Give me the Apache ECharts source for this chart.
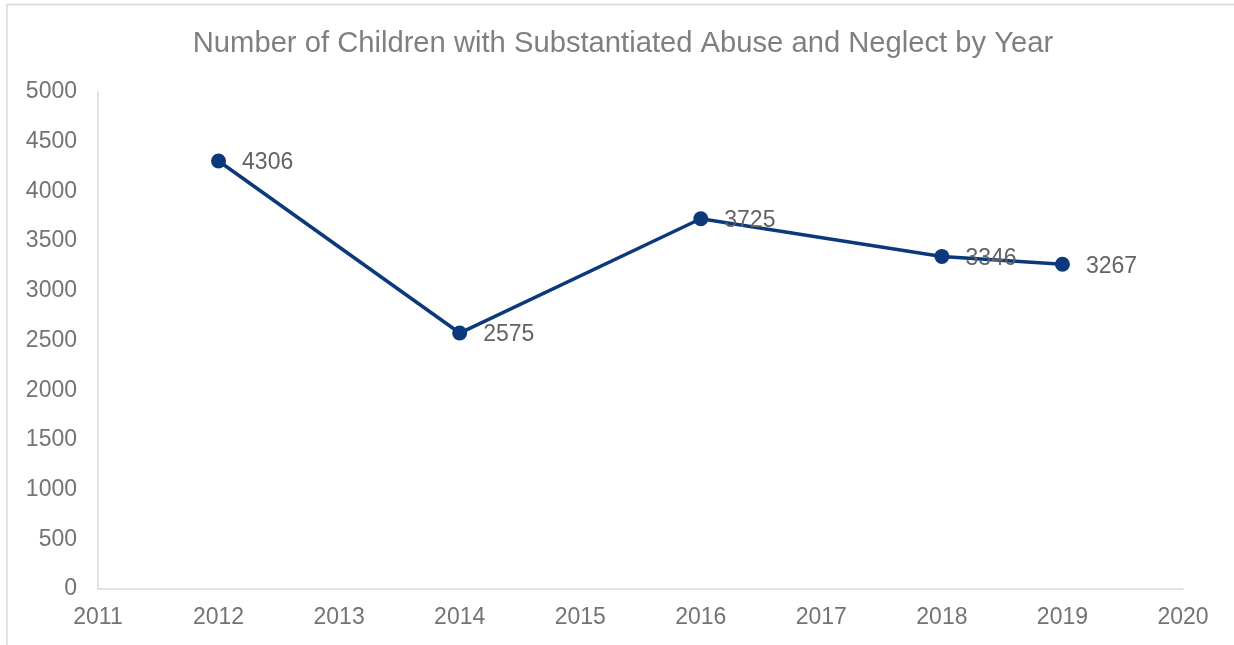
<!DOCTYPE html>
<html><head><meta charset="utf-8">
<script src="https://cdn.jsdelivr.net/npm/echarts@6/dist/echarts.min.js"></script>
<style>html,body{margin:0;padding:0;background:#fff}#c{width:1234px;height:645px}</style>
</head><body><div id="c"></div>
<script>
const years = [2012, 2014, 2016, 2018, 2019];
const counts = [4306, 2575, 3725, 3346, 3267];
const titleText = 'Number of Children with Substantiated Abuse and Neglect by Year';

const chart = echarts.init(document.getElementById('c'), null, {renderer: 'canvas'});
const font = '"Liberation Sans", Arial, sans-serif';
chart.setOption({
  animation: false,
  backgroundColor: '#fff',
  graphic: [{
    type: 'rect', z: -1,
    shape: {x: 7, y: 4.5, width: 1300, height: 700},
    style: {fill: 'none', stroke: '#d9d9d9', lineWidth: 1.5}
  }, {
    type: 'text', x: 623, y: 44, z: 10,
    style: {text: titleText, fontFamily: font, fontSize: 29.2, fill: '#7f7f7f', textAlign: 'center', textVerticalAlign: 'middle'}
  }],
  grid: {left: 98, right: 51, top: 92, bottom: 56, containLabel: false},
  xAxis: {
    type: 'value', min: 2011, max: 2020, interval: 1,
    axisLine: {show: true, lineStyle: {color: '#d9d9d9', width: 1.5}},
    axisTick: {show: false}, splitLine: {show: false},
    axisLabel: {margin: 17, fontFamily: font, fontSize: 23, color: '#737373', formatter: v => String(v)}
  },
  yAxis: {
    type: 'value', min: 0, max: 5000, interval: 500,
    axisLine: {show: true, lineStyle: {color: '#d9d9d9', width: 1.5}},
    axisTick: {show: false}, splitLine: {show: false},
    axisLabel: {margin: 21, fontFamily: font, fontSize: 23, color: '#737373', formatter: v => String(v)}
  },
  series: [{
    type: 'line',
    data: years.map((y, i) => [y, counts[i]]),
    symbol: 'circle', symbolSize: 15,
    lineStyle: {color: '#0c397c', width: 3.5},
    itemStyle: {color: '#0c397c'},
    label: {show: true, position: 'right', distance: 16, offset: [0, 2], fontFamily: font, fontSize: 23, color: '#636363',
      formatter: p => String(p.value[1])}
  }]
});
</script></body></html>
